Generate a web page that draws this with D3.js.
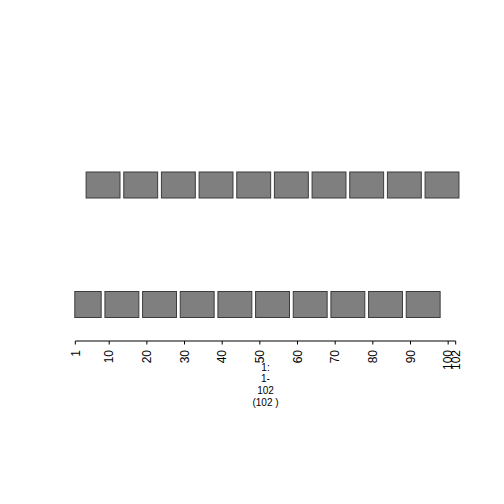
<!DOCTYPE html>
<html>
<head>
<meta charset="utf-8">
<script src="https://cdn.jsdelivr.net/npm/d3@7"></script>
<style>
  html, body { margin: 0; padding: 0; background: #fff; }
  svg { display: block; }
</style>
</head>
<body>
<svg id="chart" width="504" height="504"></svg>
<script>
// Data
const topStarts = [4, 14, 24, 34, 44, 54, 64, 74, 84, 94];
const topEnds = [13, 23, 33, 43, 53, 63, 73, 83, 93, 103];
const bottomStarts = [1, 9, 19, 29, 39, 49, 59, 69, 79, 89];
const bottomEnds = [8, 18, 28, 38, 48, 58, 68, 78, 88, 98];
const tickValues = [1, 10, 20, 30, 40, 50, 60, 70, 80, 90, 100, 102];
const rangeLabel = ["1:", "1-", "102", "(102 )"];
const domainMin = 1, domainMax = 102;

const svg = d3.select("#chart");
const x = d3.scaleLinear().domain([domainMin, domainMax]).range([75.3, 455.7]);

function track(starts, ends, y0, y1) {
  const data = starts.map((s, i) => ({ s, e: ends[i] }));
  svg.append("g").selectAll("rect").data(data).join("rect")
    .attr("x", d => x(d.s) - 0.5)
    .attr("y", y0)
    .attr("width", d => x(d.e) - x(d.s))
    .attr("height", y1 - y0)
    .attr("fill", "#7f7f7f")
    .attr("stroke", "#3c3c3c")
    .attr("stroke-width", 1);
}
track(topStarts, topEnds, 172, 198);
track(bottomStarts, bottomEnds, 291.5, 317.5);

// axis
const axisY = 341;
const ax = svg.append("g").attr("transform", `translate(0,${axisY})`);
ax.append("line")
  .attr("x1", x(domainMin)).attr("x2", x(domainMax))
  .attr("y1", 0).attr("y2", 0)
  .attr("stroke", "#000").attr("stroke-width", 1);
ax.selectAll("line.tick").data(tickValues).join("line")
  .attr("class", "tick")
  .attr("x1", d => x(d)).attr("x2", d => x(d))
  .attr("y1", 0).attr("y2", 3.5)
  .attr("stroke", "#000").attr("stroke-width", 1);
ax.selectAll("text").data(tickValues).join("text")
  .attr("transform", d => `translate(${x(d)},9) rotate(-90)`)
  .attr("text-anchor", "end")
  .attr("dy", "0.35em")
  .attr("font-family", "Liberation Sans, Arial, sans-serif")
  .attr("font-size", 12)
  .attr("fill", "#000")
  .text(d => d);

// range label
const cx = (x(domainMin) + x(domainMax)) / 2;
svg.append("g").selectAll("text").data(rangeLabel).join("text")
  .attr("x", cx)
  .attr("y", (d, i) => 370.5 + i * 11.7)
  .attr("text-anchor", "middle")
  .attr("font-family", "Liberation Sans, Arial, sans-serif")
  .attr("font-size", 10)
  .attr("fill", "#000")
  .text(d => d);
</script>
</body>
</html>
